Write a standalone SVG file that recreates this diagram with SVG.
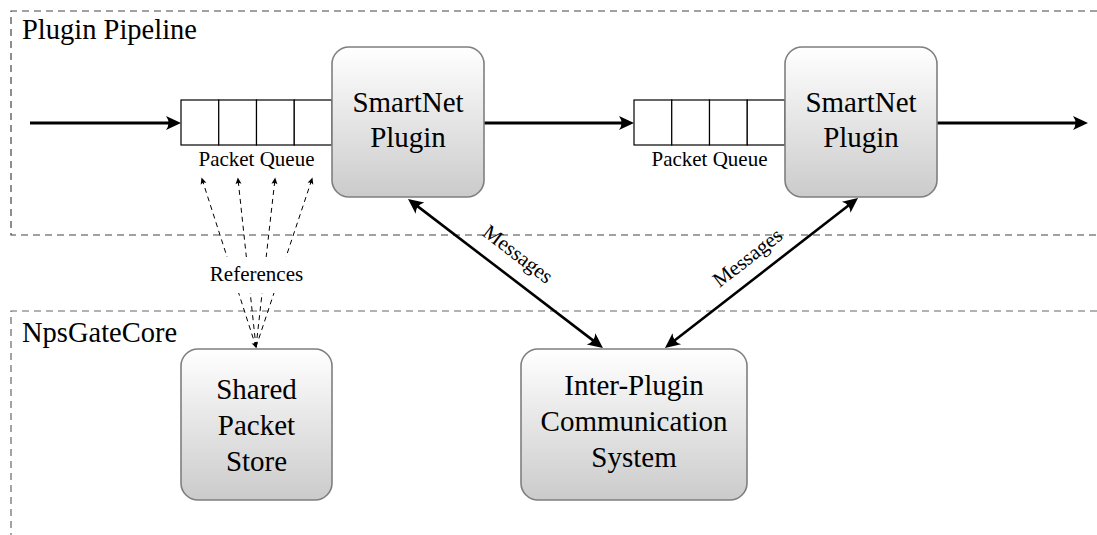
<svg xmlns="http://www.w3.org/2000/svg" width="1097" height="535" viewBox="0 0 1097 535">
<style>
  .frame { fill: none; stroke: #444; stroke-width: 1.2; stroke-dasharray: 7 5; }
  .frame2 { fill: none; stroke: #666; stroke-width: 1.2; stroke-dasharray: 7 5; }
  .node { fill: url(#grad); stroke: #7f7f7f; stroke-width: 1.6; }
  .cell { fill: #fff; stroke: #000; stroke-width: 1.2; }
  .big { font-family: "Liberation Serif", "Times New Roman", serif; font-size: 29px; fill: #000; }
  .title { font-family: "Liberation Serif", "Times New Roman", serif; font-size: 28.5px; fill: #000; }
  .small { font-family: "Liberation Serif", "Times New Roman", serif; font-size: 21px; fill: #000; }
  .flow { fill: none; stroke: #000; stroke-width: 3; }
  .msg { fill: none; stroke: #000; stroke-width: 2.6; }
  .ref { fill: none; stroke: #000; stroke-width: 1; stroke-dasharray: 5 4; }
</style>
<defs>
  <linearGradient id="grad" x1="0" y1="0" x2="0" y2="1">
    <stop offset="0" stop-color="#ffffff"/>
    <stop offset="1" stop-color="#cbcbcb"/>
  </linearGradient>
  <marker id="bigArrow" markerUnits="userSpaceOnUse" markerWidth="24" markerHeight="20" viewBox="-12 -10 24 20" refX="0" refY="0" orient="auto-start-reverse">
    <path d="M6,0 L-9,-7 Q-4,0 -9,7 Z" fill="#000"/>
  </marker>
  <marker id="smallArrow" markerUnits="userSpaceOnUse" markerWidth="12" markerHeight="10" viewBox="-6 -5 12 10" refX="0" refY="0" orient="auto-start-reverse">
    <path d="M1.5,0 L-5,-3 Q-3,0 -5,3 Z" fill="#000"/>
  </marker>
</defs>

<g id="region-pipeline">
  <path class="frame" d="M1097,11 H11 V235 H1097"/>
  <text class="title" x="22" y="39">Plugin Pipeline</text>
</g>
<g id="region-core">
  <path class="frame2" d="M1097,311 H11 V535"/>
  <text class="title" x="22" y="342">NpsGateCore</text>
</g>

<g id="connectors">
  <line class="flow" x1="30" y1="123" x2="175" y2="123" marker-end="url(#bigArrow)"/>
  <line class="flow" x1="484" y1="123" x2="628" y2="123" marker-end="url(#bigArrow)"/>
  <line class="flow" x1="937" y1="123" x2="1082" y2="123" marker-end="url(#bigArrow)"/>
  <line class="msg" x1="412.8" y1="202.6" x2="598.2" y2="344.4" marker-start="url(#bigArrow)" marker-end="url(#bigArrow)"/>
  <line class="msg" x1="853.3" y1="201.7" x2="669.7" y2="344.3" marker-start="url(#bigArrow)" marker-end="url(#bigArrow)"/>
  <line class="ref" x1="256" y1="347" x2="202" y2="179" marker-start="url(#smallArrow)" marker-end="url(#smallArrow)"/>
  <line class="ref" x1="256" y1="347" x2="238" y2="179" marker-end="url(#smallArrow)"/>
  <line class="ref" x1="256" y1="347" x2="275" y2="179" marker-end="url(#smallArrow)"/>
  <line class="ref" x1="256" y1="347" x2="312" y2="179" marker-end="url(#smallArrow)"/>
  <g id="label-references">
    <rect x="206" y="257" width="101" height="36" fill="#fff"/>
    <text class="small" x="256.5" y="281" text-anchor="middle">References</text>
  </g>
  <text class="small" transform="translate(518,254) rotate(37.4)" x="0" y="7" text-anchor="middle">Messages</text>
  <text class="small" transform="translate(747.5,257.5) rotate(-37.9)" x="0" y="7" text-anchor="middle">Messages</text>
</g>

<g id="queue1">
  <rect class="cell" x="181" y="100" width="37.75" height="45"/>
  <rect class="cell" x="218.75" y="100" width="37.75" height="45"/>
  <rect class="cell" x="256.5" y="100" width="37.75" height="45"/>
  <rect class="cell" x="294.25" y="100" width="37.75" height="45"/>
  <text class="small" x="256.5" y="166" text-anchor="middle">Packet Queue</text>
</g>
<g id="queue2">
  <rect class="cell" x="634" y="100" width="37.75" height="45"/>
  <rect class="cell" x="671.75" y="100" width="37.75" height="45"/>
  <rect class="cell" x="709.5" y="100" width="37.75" height="45"/>
  <rect class="cell" x="747.25" y="100" width="37.75" height="45"/>
  <text class="small" x="709.5" y="166" text-anchor="middle">Packet Queue</text>
</g>

<g id="plugin1">
  <rect class="node" x="332" y="47" width="152" height="150" rx="17" ry="17"/>
  <text class="big" x="408" y="112" text-anchor="middle">SmartNet</text>
  <text class="big" x="408" y="147" text-anchor="middle">Plugin</text>
</g>
<g id="plugin2">
  <rect class="node" x="785" y="47" width="152" height="150" rx="17" ry="17"/>
  <text class="big" x="861" y="112" text-anchor="middle">SmartNet</text>
  <text class="big" x="861" y="147" text-anchor="middle">Plugin</text>
</g>
<g id="shared-packet-store">
  <rect class="node" x="181" y="349" width="151" height="151" rx="17" ry="17"/>
  <text class="big" x="256.5" y="399" text-anchor="middle">Shared</text>
  <text class="big" x="256.5" y="435" text-anchor="middle">Packet</text>
  <text class="big" x="256.5" y="471" text-anchor="middle">Store</text>
</g>
<g id="ipc-system">
  <rect class="node" x="521" y="349" width="226" height="151" rx="17" ry="17"/>
  <text class="big" x="634" y="395" text-anchor="middle">Inter-Plugin</text>
  <text class="big" x="634" y="431" text-anchor="middle">Communication</text>
  <text class="big" x="634" y="467" text-anchor="middle">System</text>
</g>
</svg>
